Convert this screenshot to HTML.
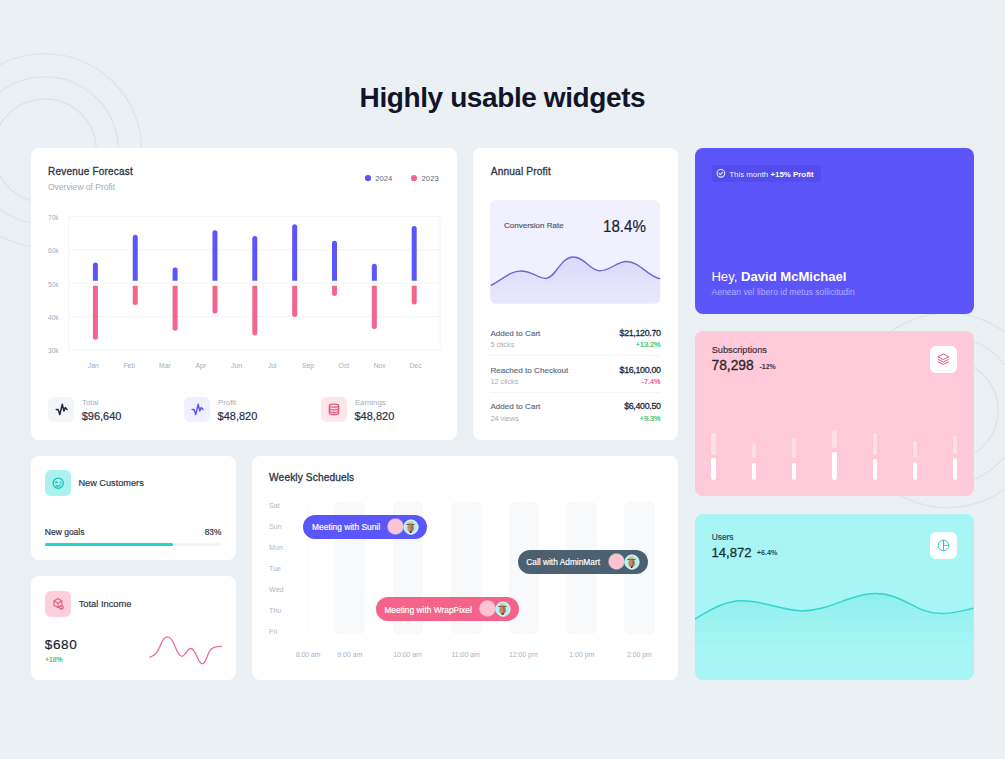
<!DOCTYPE html>
<html><head><meta charset="utf-8"><title>Highly usable widgets</title>
<style>
*{margin:0;padding:0;box-sizing:border-box}
html,body{width:1005px;height:759px;overflow:hidden}
body{background:#EBF0F4;font-family:"Liberation Sans",sans-serif;position:relative}
.t{position:absolute;white-space:nowrap;line-height:1}
.r{position:absolute}
svg.r{overflow:visible}
</style></head><body>
<svg class="r" style="left:0;top:0" width="1005" height="759" viewBox="0 0 1005 759">
<g fill="none" stroke="#DEE3EB" stroke-width="1.3">
<circle cx="44.8" cy="150.5" r="96.8"/><circle cx="44.8" cy="150.5" r="73.6"/><circle cx="44.8" cy="150.5" r="51.5"/>
<circle cx="947.5" cy="410.5" r="97.3"/><circle cx="947.5" cy="410.5" r="73.6"/><circle cx="947.5" cy="410.5" r="50.5"/>
</g></svg>
<div class="t" style="left:359.60px;top:83.69px;font-size:28px;color:#12152A;font-weight:bold;letter-spacing:-0.4px;">Highly usable widgets</div>
<div class="r" style="left:31.00px;top:147.70px;width:425.50px;height:292.10px;background:#fff;border-radius:8px;"></div>
<div class="t" style="left:48.00px;top:166.93px;font-size:10px;color:#2A3547;letter-spacing:0.2px;-webkit-text-stroke:0.3px currentColor;">Revenue Forecast</div>
<div class="t" style="left:48.00px;top:183.20px;font-size:8.5px;color:#A6ADB8;">Overview of Profit</div>
<div class="r" style="left:365.04999999999995px;top:175.35px;width:5.7px;height:5.7px;border-radius:50%;background:#5C55FA"></div>
<div class="t" style="left:375.30px;top:174.88px;font-size:7.7px;color:#5A6A85;">2024</div>
<div class="r" style="left:411.45px;top:175.35px;width:5.7px;height:5.7px;border-radius:50%;background:#F3658D"></div>
<div class="t" style="left:421.60px;top:174.88px;font-size:7.7px;color:#5A6A85;">2023</div>
<svg class="r" style="left:0;top:0" width="1005" height="759"><line x1="68.5" x2="440" y1="216.4" y2="216.4" stroke="#F3F4F7" stroke-width="1"/><line x1="68.5" x2="440" y1="249.8" y2="249.8" stroke="#F3F4F7" stroke-width="1"/><line x1="68.5" x2="440" y1="283.1" y2="283.1" stroke="#F3F4F7" stroke-width="1"/><line x1="68.5" x2="440" y1="316.5" y2="316.5" stroke="#F3F4F7" stroke-width="1"/><line x1="68.5" x2="440" y1="350.0" y2="350.0" stroke="#F3F4F7" stroke-width="1"/><line x1="68.5" x2="68.5" y1="216.4" y2="350" stroke="#F5F6F8" stroke-width="1"/><line x1="440" x2="440" y1="216.4" y2="350" stroke="#F5F6F8" stroke-width="1"/><path d="M92.9 280.7 V265.0 a2.5 2.5 0 0 1 5 0 V280.7 Z" fill="#5C55FA"/><path d="M92.9 285.7 V337.3 a2.5 2.5 0 0 0 5 0 V285.7 Z" fill="#F3658D"/><path d="M132.75 280.7 V237.2 a2.5 2.5 0 0 1 5 0 V280.7 Z" fill="#5C55FA"/><path d="M132.75 285.7 V302.6 a2.5 2.5 0 0 0 5 0 V285.7 Z" fill="#F3658D"/><path d="M172.60000000000002 280.7 V270.0 a2.5 2.5 0 0 1 5 0 V280.7 Z" fill="#5C55FA"/><path d="M172.60000000000002 285.7 V328.3 a2.5 2.5 0 0 0 5 0 V285.7 Z" fill="#F3658D"/><path d="M212.45000000000002 280.7 V232.8 a2.5 2.5 0 0 1 5 0 V280.7 Z" fill="#5C55FA"/><path d="M212.45000000000002 285.7 V311.0 a2.5 2.5 0 0 0 5 0 V285.7 Z" fill="#F3658D"/><path d="M252.3 280.7 V238.4 a2.5 2.5 0 0 1 5 0 V280.7 Z" fill="#5C55FA"/><path d="M252.3 285.7 V332.9 a2.5 2.5 0 0 0 5 0 V285.7 Z" fill="#F3658D"/><path d="M292.15 280.7 V226.8 a2.5 2.5 0 0 1 5 0 V280.7 Z" fill="#5C55FA"/><path d="M292.15 285.7 V314.4 a2.5 2.5 0 0 0 5 0 V285.7 Z" fill="#F3658D"/><path d="M332.0 280.7 V243.3 a2.5 2.5 0 0 1 5 0 V280.7 Z" fill="#5C55FA"/><path d="M332.0 285.7 V293.5 a2.5 2.5 0 0 0 5 0 V285.7 Z" fill="#F3658D"/><path d="M371.85 280.7 V266.2 a2.5 2.5 0 0 1 5 0 V280.7 Z" fill="#5C55FA"/><path d="M371.85 285.7 V326.5 a2.5 2.5 0 0 0 5 0 V285.7 Z" fill="#F3658D"/><path d="M411.70000000000005 280.7 V228.4 a2.5 2.5 0 0 1 5 0 V280.7 Z" fill="#5C55FA"/><path d="M411.70000000000005 285.7 V302.0 a2.5 2.5 0 0 0 5 0 V285.7 Z" fill="#F3658D"/></svg>
<div class="t" style="left:48.00px;top:214.81px;font-size:6.6px;color:#A6ADB8;">70k</div>
<div class="t" style="left:48.00px;top:247.81px;font-size:6.6px;color:#A6ADB8;">60k</div>
<div class="t" style="left:48.00px;top:281.81px;font-size:6.6px;color:#A6ADB8;">50k</div>
<div class="t" style="left:48.00px;top:314.81px;font-size:6.6px;color:#A6ADB8;">40k</div>
<div class="t" style="left:48.00px;top:347.81px;font-size:6.6px;color:#A6ADB8;">30k</div>
<div class="t" style="left:-6.70px;width:200px;text-align:center;top:362.64px;font-size:6.8px;color:#A6ADB8;">Jan</div>
<div class="t" style="left:29.10px;width:200px;text-align:center;top:362.64px;font-size:6.8px;color:#A6ADB8;">Feb</div>
<div class="t" style="left:64.90px;width:200px;text-align:center;top:362.64px;font-size:6.8px;color:#A6ADB8;">Mar</div>
<div class="t" style="left:100.70px;width:200px;text-align:center;top:362.64px;font-size:6.8px;color:#A6ADB8;">Apr</div>
<div class="t" style="left:136.50px;width:200px;text-align:center;top:362.64px;font-size:6.8px;color:#A6ADB8;">Jun</div>
<div class="t" style="left:172.30px;width:200px;text-align:center;top:362.64px;font-size:6.8px;color:#A6ADB8;">Jul</div>
<div class="t" style="left:208.10px;width:200px;text-align:center;top:362.64px;font-size:6.8px;color:#A6ADB8;">Sep</div>
<div class="t" style="left:243.90px;width:200px;text-align:center;top:362.64px;font-size:6.8px;color:#A6ADB8;">Oct</div>
<div class="t" style="left:279.70px;width:200px;text-align:center;top:362.64px;font-size:6.8px;color:#A6ADB8;">Nov</div>
<div class="t" style="left:315.50px;width:200px;text-align:center;top:362.64px;font-size:6.8px;color:#A6ADB8;">Dec</div>
<div class="r" style="left:48.30px;top:396.70px;width:26.00px;height:25.50px;background:#F4F5F8;border-radius:6px;"></div>
<div class="t" style="left:82.10px;top:398.80px;font-size:7.8px;color:#A6ADB8;">Total</div>
<div class="t" style="left:81.70px;top:411.09px;font-size:11px;color:#273244;-webkit-text-stroke:0.2px #273244;">$96,640</div>
<div class="r" style="left:184.20px;top:396.70px;width:26.00px;height:25.50px;background:#F0EFFE;border-radius:6px;"></div>
<div class="t" style="left:218.00px;top:398.80px;font-size:7.8px;color:#A6ADB8;">Profit</div>
<div class="t" style="left:217.60px;top:411.09px;font-size:11px;color:#273244;-webkit-text-stroke:0.2px #273244;">$48,820</div>
<div class="r" style="left:321.10px;top:396.70px;width:26.00px;height:25.50px;background:#FDE5EC;border-radius:6px;"></div>
<div class="t" style="left:354.90px;top:398.80px;font-size:7.8px;color:#A6ADB8;">Earnings</div>
<div class="t" style="left:354.50px;top:411.09px;font-size:11px;color:#273244;-webkit-text-stroke:0.2px #273244;">$48,820</div>
<svg class="r" style="left:0;top:0" width="1005" height="759" fill="none" stroke-linecap="round" stroke-linejoin="round">
<path d="M56.3 409.4 L58.1 409.4 L59.8 414.5 L62.3 404.3 L63.9 411 L65.3 407.6 L67.0 409.4" stroke="#1F2A37" stroke-width="1.5"/><path d="M192.2 409.4 L194.0 409.4 L195.7 414.5 L198.2 404.3 L199.8 411 L201.2 407.6 L202.9 409.4" stroke="#5C55FA" stroke-width="1.5"/>
<g stroke="#E2557F" stroke-width="1.3">
<ellipse cx="334" cy="405.7" rx="4.6" ry="1.5"/>
<path d="M329.4 405.7 v7.2 c0 0.9 2 1.6 4.6 1.6 s4.6 -0.7 4.6 -1.6 v-7.2"/>
<path d="M329.4 408.3 c0 0.9 2 1.6 4.6 1.6 s4.6 -0.7 4.6 -1.6"/>
<path d="M329.4 410.8 c0 0.9 2 1.6 4.6 1.6 s4.6 -0.7 4.6 -1.6"/>
</g></svg>
<div class="r" style="left:472.60px;top:147.70px;width:205.10px;height:292.10px;background:#fff;border-radius:8px;"></div>
<div class="t" style="left:490.70px;top:166.76px;font-size:10.2px;color:#2A3547;letter-spacing:0.15px;-webkit-text-stroke:0.3px currentColor;">Annual Profit</div>
<div class="r" style="left:490.40px;top:200.10px;width:170.10px;height:103.50px;background:#F1F0FE;border-radius:6px;"></div>
<div class="t" style="left:504.00px;top:221.63px;font-size:8px;color:#4A5568;-webkit-text-stroke:0.15px currentColor;">Conversion Rate</div>
<div class="t" style="left:603.40px;top:217.60px;font-size:16.3px;color:#1A1F36;transform:scaleX(0.93);transform-origin:0 0;-webkit-text-stroke:0.2px #1A1F36;">18.4%</div>
<svg class="r" style="left:0;top:0" width="1005" height="759">
<defs><linearGradient id="gp" x1="0" y1="0" x2="0" y2="1"><stop offset="0" stop-color="#DCD9FB"/><stop offset="1" stop-color="#E9E8FD"/></linearGradient>
<clipPath id="cp1"><rect x="490.4" y="200.1" width="170.1" height="103.5" rx="6"/></clipPath></defs>
<g clip-path="url(#cp1)"><path d="M490.4 285.7 C502 280 510 271 520.8 271 C532 271 538 278.5 545.9 278.5 C555 278.5 561 257 572.8 257 C585 257 590 270.8 599.6 270.8 C610 270.8 617 261.5 626.5 261.5 C640 261.5 648 277 660.5 278.9 L660.5 303.6 L490.4 303.6 Z" fill="url(#gp)"/>
<path d="M490.4 285.7 C502 280 510 271 520.8 271 C532 271 538 278.5 545.9 278.5 C555 278.5 561 257 572.8 257 C585 257 590 270.8 599.6 270.8 C610 270.8 617 261.5 626.5 261.5 C640 261.5 648 277 660.5 278.9" fill="none" stroke="#6F68DC" stroke-width="1.4"/></g></svg>
<div class="t" style="left:490.40px;top:329.54px;font-size:8.1px;color:#5A6A85;-webkit-text-stroke:0.15px currentColor;">Added to Cart</div>
<div class="t" style="left:490.40px;top:341.22px;font-size:7.3px;color:#A6ADB8;">5 clicks</div>
<div class="t" style="right:344.40px;top:328.95px;font-size:8.8px;color:#222B3A;letter-spacing:-0.3px;-webkit-text-stroke:0.3px currentColor;">$21,120.70</div>
<div class="t" style="right:344.40px;top:341.22px;font-size:7.3px;color:#2EBF74;-webkit-text-stroke:0.2px currentColor;">+13.2%</div>
<div class="t" style="left:490.40px;top:366.54px;font-size:8.1px;color:#5A6A85;-webkit-text-stroke:0.15px currentColor;">Reached to Checkout</div>
<div class="t" style="left:490.40px;top:378.22px;font-size:7.3px;color:#A6ADB8;">12 clicks</div>
<div class="t" style="right:344.40px;top:365.95px;font-size:8.8px;color:#222B3A;letter-spacing:-0.3px;-webkit-text-stroke:0.3px currentColor;">$16,100.00</div>
<div class="t" style="right:344.40px;top:378.22px;font-size:7.3px;color:#F0557D;-webkit-text-stroke:0.2px currentColor;">-7.4%</div>
<div class="t" style="left:490.40px;top:402.54px;font-size:8.1px;color:#5A6A85;-webkit-text-stroke:0.15px currentColor;">Added to Cart</div>
<div class="t" style="left:490.40px;top:415.22px;font-size:7.3px;color:#A6ADB8;">24 views</div>
<div class="t" style="right:344.40px;top:401.95px;font-size:8.8px;color:#222B3A;letter-spacing:-0.3px;-webkit-text-stroke:0.3px currentColor;">$6,400.50</div>
<div class="t" style="right:344.40px;top:415.22px;font-size:7.3px;color:#2EBF74;-webkit-text-stroke:0.2px currentColor;">+9.3%</div>
<div class="r" style="left:490.40px;top:355.40px;width:170.10px;height:1.00px;background:#F3F4F7;border-radius:0px;"></div>
<div class="r" style="left:490.40px;top:392.10px;width:170.10px;height:1.00px;background:#F3F4F7;border-radius:0px;"></div>
<div class="r" style="left:694.60px;top:147.80px;width:279.20px;height:165.90px;background:#5C55FA;border-radius:8px;"></div>
<div class="r" style="left:711.80px;top:164.70px;width:109.40px;height:17.00px;background:rgba(30,20,140,0.13);border-radius:2px;"></div>
<svg class="r" style="left:0;top:0" width="1005" height="759" fill="none" stroke="#E2E0FF" stroke-width="1.15" stroke-linecap="round" stroke-linejoin="round">
<circle cx="720.9" cy="173.3" r="3.8"/><path d="M719.2 173.4 l1.2 1.2 l2.2 -2.3"/></svg>
<div class="t" style="left:729.20px;top:170.71px;font-size:7.9px;color:rgba(255,255,255,0.93);">This month <b style="color:#fff">+15% Profit</b></div>
<div class="t" style="left:711.40px;top:270.31px;font-size:13.1px;color:#fff;">Hey, <b>David McMichael</b></div>
<div class="t" style="left:711.50px;top:288.12px;font-size:8.6px;color:rgba(255,255,255,0.5);">Aenean vel libero id metus sollicitudin</div>
<div class="r" style="left:694.60px;top:330.50px;width:279.20px;height:165.60px;background:#FECAD9;border-radius:8px;"></div>
<div class="t" style="left:711.70px;top:345.61px;font-size:9.2px;color:#3B2E3A;-webkit-text-stroke:0.18px currentColor;">Subscriptions</div>
<div class="t" style="left:711.50px;top:358.72px;font-size:13.8px;color:#2B2631;-webkit-text-stroke:0.3px currentColor;">78,298</div>
<div class="t" style="left:759.50px;top:363.47px;font-size:7px;color:#3B2E3A;font-weight:bold;">-12%</div>
<div class="r" style="left:930.00px;top:345.90px;width:26.60px;height:27.00px;background:#fff;border-radius:6px;"></div>
<svg class="r" style="left:0;top:0" width="1005" height="759" fill="none" stroke="#E8527C" stroke-width="1" stroke-linejoin="round">
<path d="M943.3 354 l5.4 2.8 l-5.4 2.8 l-5.4 -2.8 Z"/><path d="M937.9 359.3 l5.4 2.8 l5.4 -2.8"/><path d="M937.9 361.7 l5.4 2.8 l5.4 -2.8"/></svg>
<div class="r" style="left:711.40px;top:432.50px;width:4.40px;height:22.50px;background:rgba(255,255,255,0.4);border-radius:2.2px;"></div>
<div class="r" style="left:711.40px;top:458.20px;width:4.40px;height:21.70px;background:#fff;border-radius:2.2px;"></div>
<div class="r" style="left:751.70px;top:442.80px;width:4.40px;height:14.80px;background:rgba(255,255,255,0.4);border-radius:2.2px;"></div>
<div class="r" style="left:751.70px;top:462.60px;width:4.40px;height:17.30px;background:#fff;border-radius:2.2px;"></div>
<div class="r" style="left:792.00px;top:437.50px;width:4.40px;height:20.10px;background:rgba(255,255,255,0.4);border-radius:2.2px;"></div>
<div class="r" style="left:792.00px;top:462.60px;width:4.40px;height:17.30px;background:#fff;border-radius:2.2px;"></div>
<div class="r" style="left:832.30px;top:430.20px;width:4.40px;height:18.00px;background:rgba(255,255,255,0.4);border-radius:2.2px;"></div>
<div class="r" style="left:832.30px;top:452.10px;width:4.40px;height:27.80px;background:#fff;border-radius:2.2px;"></div>
<div class="r" style="left:872.60px;top:432.90px;width:4.40px;height:22.60px;background:rgba(255,255,255,0.4);border-radius:2.2px;"></div>
<div class="r" style="left:872.60px;top:459.40px;width:4.40px;height:20.50px;background:#fff;border-radius:2.2px;"></div>
<div class="r" style="left:912.90px;top:441.00px;width:4.40px;height:16.60px;background:rgba(255,255,255,0.4);border-radius:2.2px;"></div>
<div class="r" style="left:912.90px;top:462.00px;width:4.40px;height:17.90px;background:#fff;border-radius:2.2px;"></div>
<div class="r" style="left:952.80px;top:435.60px;width:4.40px;height:18.00px;background:rgba(255,255,255,0.4);border-radius:2.2px;"></div>
<div class="r" style="left:952.80px;top:457.50px;width:4.40px;height:22.40px;background:#fff;border-radius:2.2px;"></div>
<div class="r" style="left:694.60px;top:513.90px;width:279.20px;height:165.90px;background:#A7F6F5;border-radius:8px;"></div>
<div class="t" style="left:711.70px;top:533.29px;font-size:8.4px;color:#1F4650;-webkit-text-stroke:0.18px currentColor;">Users</div>
<div class="t" style="left:711.50px;top:546.31px;font-size:13.1px;color:#13313A;-webkit-text-stroke:0.3px currentColor;">14,872</div>
<div class="t" style="left:756.70px;top:549.30px;font-size:7.2px;color:#1F4650;font-weight:bold;">+6.4%</div>
<div class="r" style="left:929.90px;top:531.90px;width:27.00px;height:27.40px;background:#fff;border-radius:6px;"></div>
<svg class="r" style="left:0;top:0" width="1005" height="759" fill="none" stroke="#2EC7C2" stroke-width="1">
<circle cx="943.5" cy="545.4" r="5.3"/><path d="M943.5 540.1 v10.6 M943.5 545.4 h5.3"/></svg>
<svg class="r" style="left:0;top:0" width="1005" height="759">
<defs><linearGradient id="gc" x1="0" y1="0" x2="0" y2="1"><stop offset="0" stop-color="#3AD6D2" stop-opacity="0.22"/><stop offset="1" stop-color="#3AD6D2" stop-opacity="0"/></linearGradient>
<clipPath id="cp2"><rect x="694.6" y="513.9" width="279.2" height="165.9" rx="8"/></clipPath></defs>
<g clip-path="url(#cp2)"><path d="M694.6 619 C712 609 725 600.8 742 600.8 C765 600.8 782 610.9 802.5 610.9 C830 610.9 850 593.6 874.7 593.6 C905 593.6 915 613.5 941 613.5 C955 613.5 965 610 973.8 608.3 L973.8 650 L694.6 650 Z" fill="url(#gc)"/>
<path d="M694.6 619 C712 609 725 600.8 742 600.8 C765 600.8 782 610.9 802.5 610.9 C830 610.9 850 593.6 874.7 593.6 C905 593.6 915 613.5 941 613.5 C955 613.5 965 610 973.8 608.3" fill="none" stroke="#34D5D1" stroke-width="1.5"/></g></svg>
<div class="r" style="left:31.00px;top:456.00px;width:204.70px;height:103.80px;background:#fff;border-radius:8px;"></div>
<div class="r" style="left:45.10px;top:470.10px;width:25.70px;height:25.70px;background:#A9F2F0;border-radius:6px;"></div>
<svg class="r" style="left:0;top:0" width="1005" height="759" fill="none" stroke="#1CC6C1" stroke-width="1.4" stroke-linecap="round" stroke-linejoin="round">
<circle cx="58.2" cy="483.2" r="5.1"/><path d="M55.6 482.6 q0.8 -1.4 1.6 0"/><circle cx="60.6" cy="482.7" r="0.9" fill="#1CC6C1" stroke="none"/><path d="M56.2 485.6 q2 1.2 4 -0.3"/></svg>
<div class="t" style="left:78.40px;top:478.61px;font-size:9.2px;color:#2A3547;-webkit-text-stroke:0.18px currentColor;">New Customers</div>
<div class="t" style="left:44.80px;top:528.20px;font-size:8.5px;color:#2A3547;-webkit-text-stroke:0.18px currentColor;">New goals</div>
<div class="t" style="right:783.70px;top:528.37px;font-size:8.3px;color:#2A3547;-webkit-text-stroke:0.18px currentColor;">83%</div>
<div class="r" style="left:45.00px;top:543.30px;width:176.10px;height:3.10px;background:#F2F4F7;border-radius:2px;"></div>
<div class="r" style="left:45.00px;top:543.30px;width:127.70px;height:3.10px;background:#22D3CE;border-radius:2px;"></div>
<div class="r" style="left:31.00px;top:576.20px;width:204.70px;height:103.60px;background:#fff;border-radius:8px;"></div>
<div class="r" style="left:45.10px;top:590.60px;width:25.70px;height:26.00px;background:#FDCEDB;border-radius:6px;"></div>
<svg class="r" style="left:0;top:0" width="1005" height="759" fill="none" stroke="#DC6389" stroke-width="1.2" stroke-linejoin="round" stroke-linecap="round">
<path d="M61.8 604.5 V601 L58 598.6 L54 601 V605.3 L58 607.6 L59 607"/><path d="M54.2 601.1 L58 603.3 L61.8 601.1 M58 603.3 V607.4"/>
<circle cx="61.4" cy="607.4" r="2.4" fill="#EC5C88" stroke="none"/><path d="M60.4 607.4 h2" stroke="#FFD6E2" stroke-width="0.8"/></svg>
<div class="t" style="left:78.70px;top:599.53px;font-size:9.3px;color:#2A3547;-webkit-text-stroke:0.18px currentColor;">Total Income</div>
<div class="t" style="left:44.70px;top:637.97px;font-size:13.5px;color:#1A1F36;letter-spacing:0.7px;-webkit-text-stroke:0.2px currentColor;">$680</div>
<div class="t" style="left:45.10px;top:656.73px;font-size:6.7px;color:#2EBF74;-webkit-text-stroke:0.18px currentColor;">+18%</div>
<svg class="r" style="left:0;top:0" width="1005" height="759"><path d="M149.4 657.5 C155 655.8 158 652.5 160.3 645.5 C162.3 639.8 164.3 636.8 167.7 636.8 C171 636.8 173 641 175.3 647 C177.3 652.3 179 656.3 182 656.3 C185.2 656.3 187.5 648.5 190.8 648.5 C194 648.5 195.8 654 197.8 658.6 C199.4 662.2 200.5 663.8 202.3 663.8 C205 663.8 206.6 657.5 208.8 652.5 C211 647.8 214.5 646.3 222.2 646.3" fill="none" stroke="#E9708F" stroke-width="1.3"/></svg>
<div class="r" style="left:252.30px;top:456.00px;width:425.40px;height:223.80px;background:#fff;border-radius:8px;"></div>
<div class="t" style="left:269.10px;top:472.76px;font-size:10.2px;color:#2A3547;letter-spacing:0.1px;-webkit-text-stroke:0.3px currentColor;">Weekly Scheduels</div>
<div class="r" style="left:334.40px;top:501.70px;width:30.30px;height:132.50px;background:#F8F9FB;border-radius:6px;"></div>
<div class="r" style="left:392.90px;top:501.70px;width:30.30px;height:132.50px;background:#F8F9FB;border-radius:6px;"></div>
<div class="r" style="left:451.40px;top:501.70px;width:30.30px;height:132.50px;background:#F8F9FB;border-radius:6px;"></div>
<div class="r" style="left:509.00px;top:501.70px;width:30.30px;height:132.50px;background:#F8F9FB;border-radius:6px;"></div>
<div class="r" style="left:566.30px;top:501.70px;width:30.30px;height:132.50px;background:#F8F9FB;border-radius:6px;"></div>
<div class="r" style="left:624.40px;top:501.70px;width:30.30px;height:132.50px;background:#F8F9FB;border-radius:6px;"></div>
<div class="r" style="left:307.00px;top:501.70px;width:2.00px;height:132.50px;background:#FAFBFC;border-radius:1px;"></div>
<div class="t" style="left:269.10px;top:503.39px;font-size:7.1px;color:#B2B8C1;">Sat</div>
<div class="t" style="left:269.10px;top:524.39px;font-size:7.1px;color:#B2B8C1;">Sun</div>
<div class="t" style="left:269.10px;top:545.39px;font-size:7.1px;color:#B2B8C1;">Mon</div>
<div class="t" style="left:269.10px;top:566.39px;font-size:7.1px;color:#B2B8C1;">Tue</div>
<div class="t" style="left:269.10px;top:587.39px;font-size:7.1px;color:#B2B8C1;">Wed</div>
<div class="t" style="left:269.10px;top:608.39px;font-size:7.1px;color:#B2B8C1;">Thu</div>
<div class="t" style="left:269.10px;top:629.39px;font-size:7.1px;color:#B2B8C1;">Fri</div>
<div class="t" style="left:208.10px;width:200px;text-align:center;top:651.56px;font-size:6.9px;color:#ADB3BD;">8:00 am</div>
<div class="t" style="left:249.80px;width:200px;text-align:center;top:651.56px;font-size:6.9px;color:#ADB3BD;">9:00 am</div>
<div class="t" style="left:307.50px;width:200px;text-align:center;top:651.56px;font-size:6.9px;color:#ADB3BD;">10:00 am</div>
<div class="t" style="left:365.60px;width:200px;text-align:center;top:651.56px;font-size:6.9px;color:#ADB3BD;">11:00 am</div>
<div class="t" style="left:423.30px;width:200px;text-align:center;top:651.56px;font-size:6.9px;color:#ADB3BD;">12:00 pm</div>
<div class="t" style="left:481.80px;width:200px;text-align:center;top:651.56px;font-size:6.9px;color:#ADB3BD;">1:00 pm</div>
<div class="t" style="left:539.40px;width:200px;text-align:center;top:651.56px;font-size:6.9px;color:#ADB3BD;">2:00 pm</div>
<div class="r" style="left:303.10px;top:514.50px;width:123.90px;height:24.30px;background:#5C55FA;border-radius:12.5px;"></div>
<div class="t" style="left:312.10px;top:523.29px;font-size:8.4px;color:#fff;-webkit-text-stroke:0.18px currentColor;">Meeting with Sunil</div>
<div class="r" style="left:388.15px;top:519.15px;width:15px;height:15px;border-radius:50%;background:#FFC4D3;box-shadow:0 0 0 0.8px rgba(255,235,245,0.6)"></div>
<svg class="r" style="left:402.85px;top:518.65px" width="16" height="16" viewBox="0 0 16 16">
<circle cx="8" cy="8" r="7.6" fill="#B0F3EF"/>
<circle cx="8" cy="8" r="7.1" fill="none" stroke="rgba(255,255,255,0.35)" stroke-width="0.9"/>
<clipPath id="av4108"><circle cx="8" cy="8" r="7.6"/></clipPath>
<g clip-path="url(#av4108)">
<path d="M4.2 16.5 L6.3 13.6 L7.6 14.6 L8.9 13.6 L11 16.5 Z" fill="#F1F1F1"/>
<ellipse cx="7.6" cy="8.9" rx="3.3" ry="3.8" fill="#C98A6C"/>
<path d="M7.9 5.2 A3.3 3.8 0 0 1 7.9 12.7 Z" fill="#8E4A38" opacity="0.45"/>
<path d="M6.4 11.6 Q7.6 13.6 8.9 11.6 L8.6 13.4 L7.6 14.3 L6.7 13.4 Z" fill="#3A2220"/>
<path d="M4.3 5.4 Q4.5 2.2 7.5 2.1 Q10.4 2.2 10.6 5.4 Z" fill="#DACBA4"/>
<path d="M3.3 5.6 Q7.5 4.7 11.5 5.6" stroke="#6B3F1E" stroke-width="0.9" fill="none"/>
</g></svg>
<div class="r" style="left:517.90px;top:549.60px;width:129.90px;height:24.30px;background:#4B6172;border-radius:12.5px;"></div>
<div class="t" style="left:526.30px;top:558.33px;font-size:8.35px;color:#fff;-webkit-text-stroke:0.18px currentColor;">Call with AdminMart</div>
<div class="r" style="left:608.95px;top:554.25px;width:15px;height:15px;border-radius:50%;background:#FFC4D3;box-shadow:0 0 0 0.8px rgba(255,235,245,0.6)"></div>
<svg class="r" style="left:623.6499999999999px;top:553.75px" width="16" height="16" viewBox="0 0 16 16">
<circle cx="8" cy="8" r="7.6" fill="#B0F3EF"/>
<circle cx="8" cy="8" r="7.1" fill="none" stroke="rgba(255,255,255,0.35)" stroke-width="0.9"/>
<clipPath id="av6316"><circle cx="8" cy="8" r="7.6"/></clipPath>
<g clip-path="url(#av6316)">
<path d="M4.2 16.5 L6.3 13.6 L7.6 14.6 L8.9 13.6 L11 16.5 Z" fill="#F1F1F1"/>
<ellipse cx="7.6" cy="8.9" rx="3.3" ry="3.8" fill="#C98A6C"/>
<path d="M7.9 5.2 A3.3 3.8 0 0 1 7.9 12.7 Z" fill="#8E4A38" opacity="0.45"/>
<path d="M6.4 11.6 Q7.6 13.6 8.9 11.6 L8.6 13.4 L7.6 14.3 L6.7 13.4 Z" fill="#3A2220"/>
<path d="M4.3 5.4 Q4.5 2.2 7.5 2.1 Q10.4 2.2 10.6 5.4 Z" fill="#DACBA4"/>
<path d="M3.3 5.6 Q7.5 4.7 11.5 5.6" stroke="#6B3F1E" stroke-width="0.9" fill="none"/>
</g></svg>
<div class="r" style="left:375.90px;top:596.90px;width:142.90px;height:23.90px;background:#F5638B;border-radius:12.5px;"></div>
<div class="t" style="left:384.40px;top:606.29px;font-size:8.4px;color:#fff;-webkit-text-stroke:0.18px currentColor;">Meeting with WrapPixel</div>
<div class="r" style="left:479.95px;top:601.35px;width:15px;height:15px;border-radius:50%;background:#FFC4D3;box-shadow:0 0 0 0.8px rgba(255,235,245,0.6)"></div>
<svg class="r" style="left:494.65px;top:600.8499999999999px" width="16" height="16" viewBox="0 0 16 16">
<circle cx="8" cy="8" r="7.6" fill="#B0F3EF"/>
<circle cx="8" cy="8" r="7.1" fill="none" stroke="rgba(255,255,255,0.35)" stroke-width="0.9"/>
<clipPath id="av5026"><circle cx="8" cy="8" r="7.6"/></clipPath>
<g clip-path="url(#av5026)">
<path d="M4.2 16.5 L6.3 13.6 L7.6 14.6 L8.9 13.6 L11 16.5 Z" fill="#F1F1F1"/>
<ellipse cx="7.6" cy="8.9" rx="3.3" ry="3.8" fill="#C98A6C"/>
<path d="M7.9 5.2 A3.3 3.8 0 0 1 7.9 12.7 Z" fill="#8E4A38" opacity="0.45"/>
<path d="M6.4 11.6 Q7.6 13.6 8.9 11.6 L8.6 13.4 L7.6 14.3 L6.7 13.4 Z" fill="#3A2220"/>
<path d="M4.3 5.4 Q4.5 2.2 7.5 2.1 Q10.4 2.2 10.6 5.4 Z" fill="#DACBA4"/>
<path d="M3.3 5.6 Q7.5 4.7 11.5 5.6" stroke="#6B3F1E" stroke-width="0.9" fill="none"/>
</g></svg>
</body></html>
